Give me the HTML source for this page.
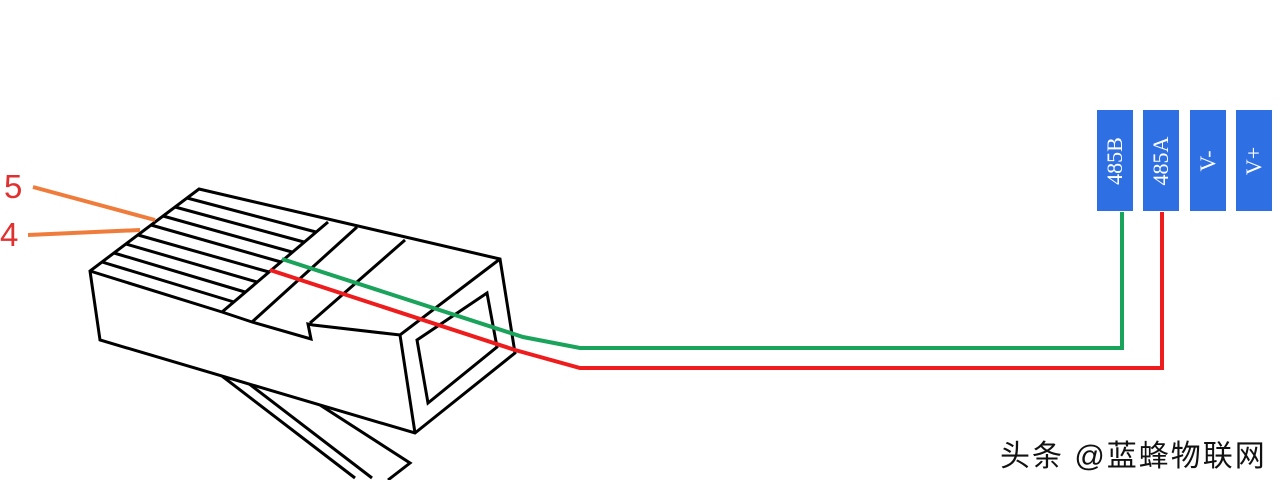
<!DOCTYPE html>
<html><head><meta charset="utf-8"><style>
body{margin:0;width:1284px;height:480px;background:#fff;overflow:hidden;position:relative;font-family:"Liberation Sans","Noto Sans CJK SC",sans-serif}
.b{position:absolute;top:110px;width:36px;height:101px;background:#2f6fe4}
.b span{position:absolute;left:50%;top:50%;transform:translate(-50%,-50%) rotate(-90deg);color:#fff;font:22px "Liberation Serif",serif;white-space:nowrap}
</style></head><body>
<svg width="1284" height="480" style="position:absolute;left:0;top:0" fill="none" stroke-linejoin="miter">
<g stroke="#000" stroke-width="3">
<polyline points="218,373 355,478"/>
<polyline points="248,383 372,478"/>
<polyline points="320,405 410,463 388,480"/>
<polygon points="199,189 500,259 515,353 415,433 100,340 90,271" fill="#fff"/>
<polyline points="90,271 222,312 252,322 311,339 308,324 313,325 400,335 500,259"/>
<polyline points="400,335 415,433"/>
<polygon points="417,340 487,293 497,347 428,403"/>
<line x1="328" y1="222" x2="222" y2="312"/>
<line x1="357" y1="227" x2="252" y2="322"/>
<line x1="405" y1="240" x2="310" y2="323"/>
<line x1="187" y1="198" x2="316" y2="232"/>
<line x1="175" y1="207" x2="304" y2="242"/>
<line x1="163" y1="216" x2="292" y2="252"/>
<line x1="151" y1="225" x2="281" y2="262"/>
<line x1="138" y1="235" x2="269" y2="272"/>
<line x1="126" y1="244" x2="257" y2="282"/>
<line x1="114" y1="253" x2="245" y2="292"/>
<line x1="102" y1="262" x2="234" y2="302"/>
</g>
<g stroke-width="4">
<polyline points="33,187 155,220" stroke="#ef7c3a"/>
<polyline points="28,235 140,230" stroke="#ef7c3a"/>
<polyline points="282,259 523,337 580,348 1122,348 1122,212" stroke="#1aa35a"/>
<polyline points="270,270 515,350 580,368 1162,368 1162,212" stroke="#ee1c1c"/>
</g>
</svg>
<div style="position:absolute;left:4px;top:168px;color:#e03030;font-size:33px">5</div>
<div style="position:absolute;left:0px;top:216px;color:#e03030;font-size:33px">4</div>
<div class="b" style="left:1097px"><span>485B</span></div>
<div class="b" style="left:1143px"><span>485A</span></div>
<div class="b" style="left:1190px"><span>V-</span></div>
<div class="b" style="left:1236px"><span>V+</span></div>
<div style="position:absolute;left:1000px;top:431px;font-size:30px;letter-spacing:2px;color:#111;white-space:nowrap">头条 @蓝蜂物联网</div>
</body></html>
